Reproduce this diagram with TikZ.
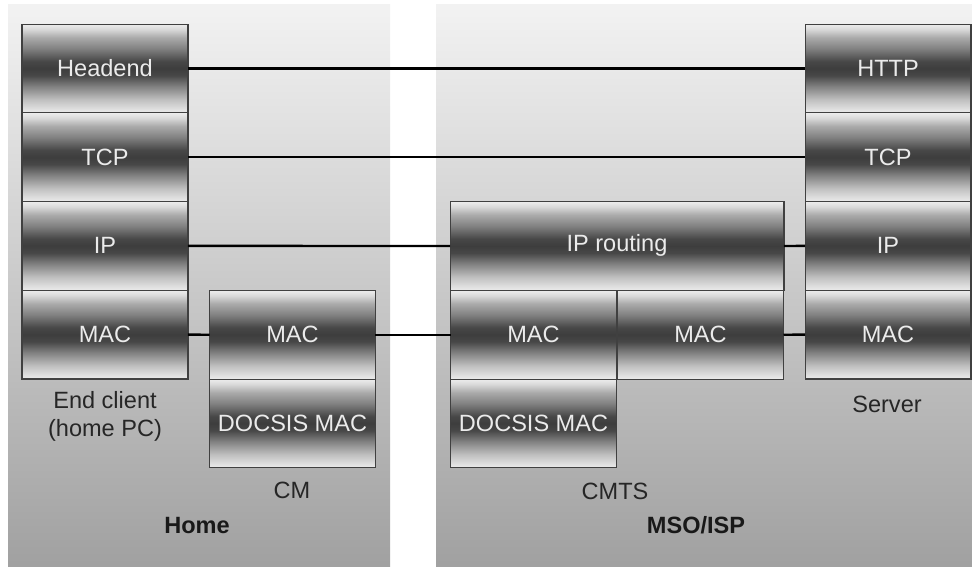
\documentclass[tikz,border=0pt]{standalone}
\usepackage{fontspec}
\setmainfont{Liberation Sans}
\usetikzlibrary{positioning}

% metallic band used by every protocol layer
\pgfdeclareverticalshading{layershade}{100bp}{%
  color(0bp)=(black!8); color(25bp)=(black!8); color(27bp)=(black!12);
  color(32.5bp)=(black!25); color(40bp)=(black!50); color(46bp)=(black!72);
  color(50bp)=(black!76); color(54bp)=(black!72); color(61bp)=(black!50);
  color(67.5bp)=(black!33); color(72bp)=(black!15); color(75bp)=(black!7);
  color(100bp)=(black!7)}

\begin{document}
\begin{tikzpicture}[
        x=0.02cm, y=-0.02cm,
        every node/.style={font=\fontsize{13.4}{16}\selectfont},
        panel/.style={top color=black!5, bottom color=black!37, draw=none},
        layer/.style={rectangle, draw=black!75, line width=0.6pt, shade, shading=layershade,
                      minimum width=3.32cm, minimum height=1.775cm, inner sep=0pt, outer sep=0pt,
                      text=white!92!black},
        widelayer/.style={layer, minimum width=6.68cm},
        caption/.style={text=black!85, align=center},
        zone/.style={font=\fontsize{13.4}{16}\selectfont\bfseries, text=black!90},
        link/.style={line width=1.3pt, black}
    ]

        \useasboundingbox (0,0) rectangle (972,566);

        % the two sites
        \path[panel] (8,4) rectangle (390,566);
        \path[panel] (436,4) rectangle (972,566);

        % end client
        \node[layer] (pcapp) at (105,68.4) {Headend};
        \node[layer, below=0pt of pcapp] (pctcp) {TCP};
        \node[layer, below=0pt of pctcp] (pcip) {IP};
        \node[layer, below=0pt of pcip] (pcmac) {MAC};

        % cable modem
        \node[layer] (cmmac) at (292.5,334.65) {MAC};
        \node[layer, below=0pt of cmmac] (cmdocsis) {DOCSIS MAC};

        % CMTS
        \node[widelayer] (cmtsip) at (617,245.9) {IP routing};
        \node[layer] (cmtsmaca) at (533.5,334.65) {MAC};
        \node[layer] (cmtsmacb) at (700.5,334.65) {MAC};
        \node[layer, below=0pt of cmtsmaca] (cmtsdocsis) {DOCSIS MAC};

        % server
        \node[layer] (srvapp) at (888,68.4) {HTTP};
        \node[layer, below=0pt of srvapp] (srvtcp) {TCP};
        \node[layer, below=0pt of srvtcp] (srvip) {IP};
        \node[layer, below=0pt of srvip] (srvmac) {MAC};

        % peer links
        \draw[link] (pcapp.east) -- (srvapp.west);
        \draw[link] (pctcp.east) -- (srvtcp.west);
        \draw[link] (pcip.east) -- (cmtsip.west);
        \draw[link] (cmtsip.east) -- (srvip.west);
        \draw[link] (pcmac.east) -- (cmmac.west);
        \draw[link] (cmmac.east) -- (cmtsmaca.west);
        \draw[link] (cmtsmacb.east) -- (srvmac.west);

        % captions
        \node[caption] (pclbl) at (105,416) {End client\\(home PC)};
        \node[caption] (cmlbl) at (292,490) {CM};
        \node[caption] (cmtslbl) at (615,491) {CMTS};
        \node[caption] (srvlbl) at (887,404) {Server};
        \node[zone] (homelbl) at (197,525) {Home};
        \node[zone] (msolbl) at (696,525) {MSO/ISP};

    \end{tikzpicture}
\end{document}
